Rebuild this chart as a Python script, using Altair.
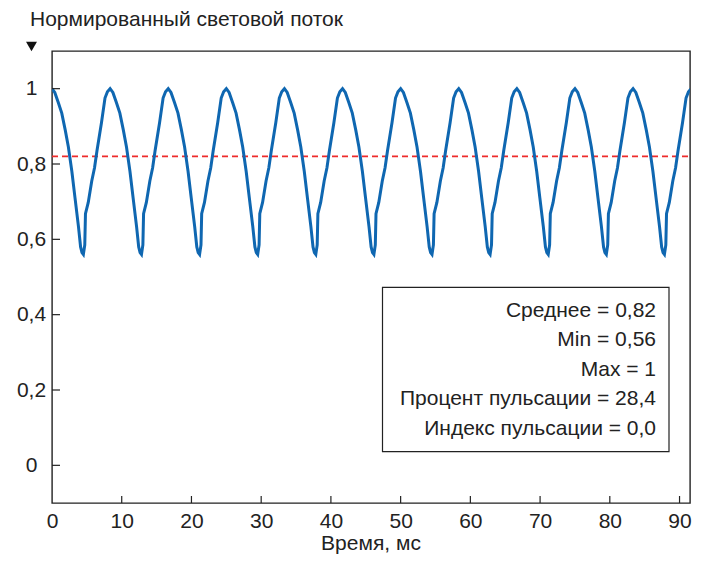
import altair as alt
import pandas as pd

# one pulse cycle (phase in ms, normalized flux)
PHASE_T = [0.0, 0.4, 0.9, 1.4, 1.9, 2.35, 2.85, 3.3, 3.8, 4.1, 4.3, 4.5, 4.7, 4.8, 5.2, 5.7, 6.1, 6.45, 7.1, 7.6, 7.95]
PHASE_V = [1.0, 0.99, 0.963, 0.935, 0.89, 0.845, 0.78, 0.71, 0.633, 0.58, 0.565, 0.56, 0.585, 0.668, 0.698, 0.755, 0.79, 0.835, 0.91, 0.975, 0.992]
# start (peak) of each cycle, ms
CYCLE_STARTS = [0.0, 8.333, 16.667, 25.0, 33.333, 41.667, 50.0, 58.333, 66.667, 75.0, 83.333, 91.667]

MEAN = 0.82
X_TICKS = [0, 10, 20, 30, 40, 50, 60, 70, 80, 90]
Y_TICKS = [0, 0.2, 0.4, 0.6, 0.8, 1.0]
STATS = ["Среднее = 0,82", "Min = 0,56", "Max = 1", "Процент пульсации = 28,4", "Индекс пульсации = 0,0"]
Y_TITLE = "Нормированный световой поток"
X_TITLE = "Время, мс"

rows = []
for c in CYCLE_STARTS:
    for t, v in zip(PHASE_T, PHASE_V):
        rows.append({"t": c + t, "v": v})
df = pd.DataFrame(rows)

W, H = 638, 452
FONT = "Liberation Sans"
FS = 21
TXT = "#222"

xs = alt.Scale(domain=[0, 91.5], nice=False, zero=False)
ys = alt.Scale(domain=[-0.1, 1.1], nice=False, zero=False)

line = alt.Chart(df).mark_line(color="#0f67b1", strokeWidth=3, clip=True).encode(
    x=alt.X("t:Q", scale=xs, axis=alt.Axis(values=X_TICKS, ticks=False, domain=False, grid=False,
                                         labelFontSize=FS, labelFont=FONT, labelColor=TXT,
                                         labelFlush=False, labelPadding=7, title=None)),
    y=alt.Y("v:Q", scale=ys, axis=alt.Axis(values=Y_TICKS, ticks=False, domain=False, grid=False,
                                         labelFontSize=FS, labelFont=FONT, labelColor=TXT,
                                         labelFlush=False, labelAlign="center", labelPadding=21, title=None,
                                         labelExpr="datum.value == 0 ? '0' : datum.value == 1 ? '1' : replace(format(datum.value, '.1f'), '.', ',')")),
)

mean_rule = alt.Chart(pd.DataFrame({"m": [MEAN]})).mark_rule(color="#ee2b2b", strokeWidth=1.8, strokeDash=[6, 4]).encode(
    y=alt.Y("m:Q", scale=ys), x=alt.value(0), x2=alt.value(W)
)

yt = alt.Chart(pd.DataFrame({"y": Y_TICKS})).mark_rule(color=TXT, strokeWidth=1.2).encode(
    y=alt.Y("y:Q", scale=ys), x=alt.value(0), x2=alt.value(8)
)
xt = alt.Chart(pd.DataFrame({"x": X_TICKS[1:]})).mark_rule(color=TXT, strokeWidth=1.2).encode(
    x=alt.X("x:Q", scale=xs), y=alt.value(H), y2=alt.value(H - 7)
)

box = alt.Chart(pd.DataFrame({"a": [0]})).mark_rect(fill="white", stroke=TXT, strokeWidth=1.2).encode(
    x=alt.value(330.5), x2=alt.value(617), y=alt.value(236.3), y2=alt.value(400.7)
)

stat_df = pd.DataFrame({"s": STATS, "py": [259.5, 289, 318.5, 348, 377.5]})
stats = alt.Chart(stat_df).mark_text(align="right", baseline="middle", font=FONT, fontSize=FS, color=TXT).encode(
    x=alt.value(604), y=alt.Y("py:Q", scale=None), text="s:N"
)

ytitle = alt.Chart(pd.DataFrame({"s": [Y_TITLE]})).mark_text(align="left", baseline="middle", font=FONT, fontSize=FS, color=TXT).encode(
    x=alt.value(-22), y=alt.value(-31), text="s:N"
)
xtitle = alt.Chart(pd.DataFrame({"s": [X_TITLE]})).mark_text(align="center", baseline="alphabetic", font=FONT, fontSize=FS, color=TXT).encode(
    x=alt.value(W / 2), y=alt.value(H + 47), text="s:N"
)
arrow = alt.Chart(pd.DataFrame({"a": [0]})).mark_point(shape="triangle-down", filled=True, color="#111", size=120, opacity=1).encode(
    x=alt.value(-20.5), y=alt.value(-4.5)
)

chart = alt.layer(mean_rule, line, box, stats, yt, xt, ytitle, xtitle, arrow).properties(
    width=W, height=H,
    padding={"left": 44, "top": 43, "right": 4, "bottom": 52},
    autosize=alt.AutoSizeParams(type="none"),
).configure(background="white").configure_view(stroke=TXT, strokeWidth=1.4)

chart.save("out.html", embed_options={"renderer": "svg", "actions": False})
